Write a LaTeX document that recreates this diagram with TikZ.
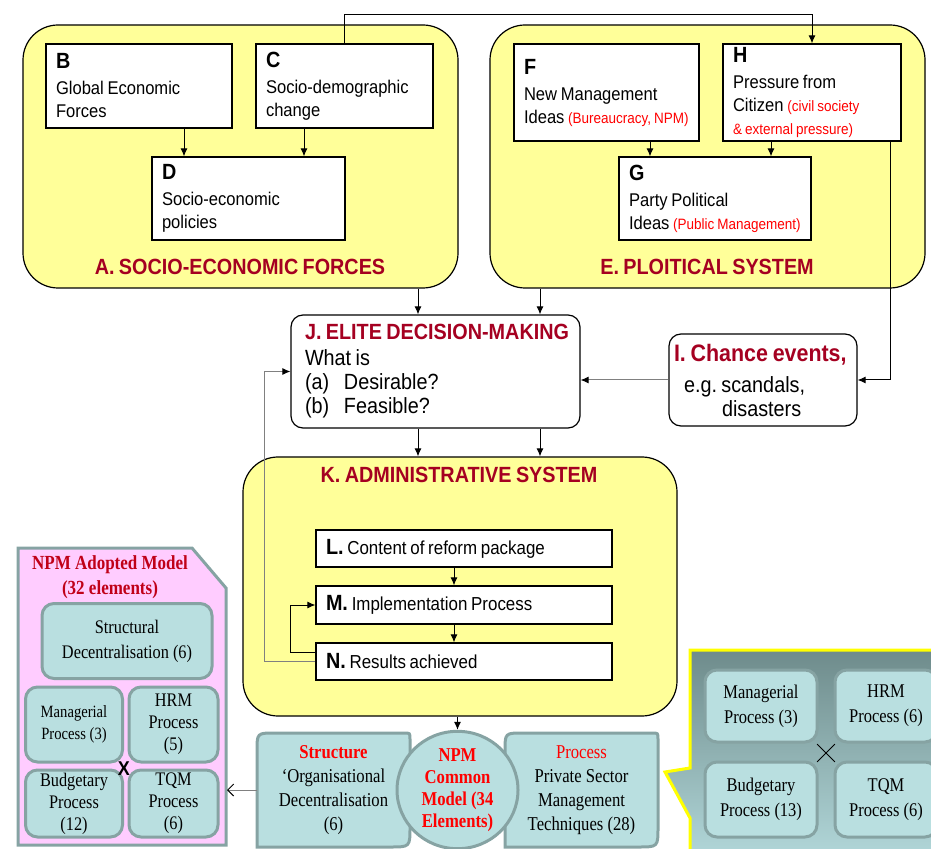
\documentclass[tikz,border=0pt]{standalone}
\usepackage{fontspec}
\setmainfont{Liberation Sans}[FakeStretch=0.9]
\newfontfamily\romanfont{Liberation Serif}[FakeStretch=0.85]
\usetikzlibrary{arrows.meta,shapes.geometric,shapes.misc}

\definecolor{paleyellow}{HTML}{FFFF99}
\definecolor{titlered}{HTML}{A50021}
\definecolor{notered}{HTML}{FF0000}
\definecolor{modelred}{HTML}{C00018}
\definecolor{tealfill}{HTML}{B9DFE0}
\definecolor{tealline}{HTML}{86A3A3}
\definecolor{pinkfill}{HTML}{FFCCFF}
\definecolor{calloutTop}{HTML}{6E8B8B}
\definecolor{calloutBot}{HTML}{B4DADC}
\definecolor{calloutEdge}{HTML}{FFFF00}
\definecolor{linegrey}{HTML}{808080}

\frenchspacing
\newcommand{\tightspace}{\spaceskip=0.2em plus 0.05em minus 0.02em\relax}
\newcommand{\boxletter}[1]{{\fontsize{11}{13}\selectfont\bfseries #1}}
\newcommand{\rednote}[1]{{\color{notered}\fontsize{7.5}{11.5}\selectfont\tightspace #1}}

\tikzset{
  panel/.style={draw, fill=paleyellow, rounded corners=17.5pt, line width=0.6pt},
  cell/.style={draw, fill=white, align=left, inner xsep=5pt, inner ysep=1.5pt,
    line width=0.6pt, font=\fontsize{9.2}{11.5}\selectfont, execute at begin node=\tightspace},
  heading/.style={text=titlered, font=\bfseries\fontsize{11}{13}\selectfont\tightspace},
  tealcell/.style={draw=tealline, fill=tealfill, line width=1.5pt, rounded corners=6pt,
    align=center, inner sep=0.5pt, font=\romanfont\fontsize{9.6}{11}\selectfont},
  link/.style={->, line width=0.5pt},
  greylink/.style={->, line width=0.5pt, draw=linegrey},
}

\begin{document}
\begin{tikzpicture}[x=0.5pt, y=-0.5pt, >={Latex[length=4pt,width=3.5pt,color=black]}]
\useasboundingbox (0,0) rectangle (931,849);
\clip (0,0) rectangle (931,849);

% side panels
\draw[draw=calloutEdge, line width=1.5pt, top color=calloutTop, bottom color=calloutBot]
  (690,650) -- (945,650) -- (945,865) -- (690,865) -- (690,818) -- (665,772) -- (690,768) -- cycle;
\draw[draw=tealline, line width=1.5pt, fill=pinkfill]
  (18,548) -- (192,548) -- (226,588) -- (226,845) -- (18,845) -- cycle;
\coordinate (adoptedE) at (227,790);

\node[panel, minimum width=217.5pt, minimum height=131.5pt] (A) at (240.5,156.5) {};
\node[panel, minimum width=217.5pt, minimum height=131.5pt] (E) at (707.5,156.5) {};
\node[panel, minimum width=217pt, minimum height=129.5pt] (K) at (460,586.5) {};
\node[heading] (Atitle) at (240,267) {A. SOCIO-ECONOMIC FORCES};
\node[heading] (Etitle) at (707,267) {E. PLOITICAL SYSTEM};
\node[heading] (Ktitle) at (459,475) {K. ADMINISTRATIVE SYSTEM};

\node[cell, text width=83pt, minimum height=42pt] (B) at (139,86)
  {\boxletter{B}\\[1.5pt] Global Economic\\ Forces};
\node[cell, text width=78.5pt, minimum height=42pt] (C) at (344.5,86)
  {\boxletter{C}\\[1.5pt] Socio-demographic\\ change};
\node[cell, text width=86.5pt, minimum height=41.5pt] (D) at (248.5,198.5)
  {\boxletter{D}\\[1.5pt] Socio-economic\\ policies};
\node[cell, text width=82.5pt, minimum height=48.5pt] (F) at (606.5,92.5)
  {\boxletter{F}\\[1.5pt] New Management\\ \mbox{Ideas \rednote{(Bureaucracy,\ NPM)}}};
\node[cell, text width=79pt, minimum height=48.5pt] (H) at (812,92.5)
  {\boxletter{H}\\[1.5pt] Pressure from\\ Citizen \rednote{(civil society}\\ \rednote{\& external pressure)}};
\node[cell, text width=86pt, minimum height=41.5pt] (G) at (715,198.5)
  {\boxletter{G}\\[1.5pt] Party Political\\ \mbox{Ideas \rednote{(Public Management)}}};

\node[cell, rounded corners=6pt, inner xsep=7pt, text width=130.5pt, minimum height=56.5pt,
  font=\fontsize{11}{12}\selectfont] (J) at (435.5,371.5)
  {\mbox{\textcolor{titlered}{\bfseries J. ELITE DECISION-MAKING}}\\[1pt] What is\\
   \makebox[19.5pt][l]{(a)}Desirable?\\ \makebox[19.5pt][l]{(b)}Feasible?};
\node[cell, rounded corners=6pt, inner xsep=2.5pt, text width=89pt, minimum height=46pt,
  font=\fontsize{11}{12}\selectfont] (I) at (763,380)
  {\mbox{\textcolor{titlered}{\bfseries\fontsize{11.9}{12}\selectfont\tightspace I. Chance events,}}\\[3.5pt]
   \hspace*{5pt}e.g. scandals,\\ \hspace*{24pt}disasters};

\node[cell, text width=138pt, minimum height=18.5pt, font=\fontsize{9.4}{11}\selectfont] (L) at (464,548.5)
  {\boxletter{L.} Content of reform package};
\node[cell, text width=138pt, minimum height=19pt, font=\fontsize{9.4}{11}\selectfont] (M) at (464,605)
  {\boxletter{M.} Implementation Process};
\node[cell, text width=138pt, minimum height=18.5pt, font=\fontsize{9.4}{11}\selectfont] (N) at (464,661.5)
  {\boxletter{N.} Results achieved};

% adopted model
\node[text=modelred, align=center, font=\romanfont\bfseries\fontsize{10}{12.5}\selectfont] (adoptedtitle)
  at (110,577) {NPM Adopted Model\\ (32 elements)};
\node[tealcell, minimum width=85pt, minimum height=37.5pt, font=\romanfont\fontsize{9.6}{12.5}\selectfont] (SD)
  at (127,641) {Structural\\ Decentralisation (6)};
\node[tealcell, minimum width=48.5pt, minimum height=37.5pt, font=\romanfont\fontsize{8.6}{11}\selectfont] (MP)
  at (74,724.5) {Managerial\\ Process (3)};
\node[tealcell, minimum width=44.5pt, minimum height=37.5pt] (HRM) at (173.5,724.5) {HRM\\ Process\\ (5)};
\node[tealcell, minimum width=48.5pt, minimum height=33.5pt] (BP) at (74,803.5) {Budgetary\\ Process\\ (12)};
\node[tealcell, minimum width=44.5pt, minimum height=33.5pt] (TQM) at (173.5,803.5) {TQM\\ Process\\ (6)};
\node[font=\bfseries\fontsize{10}{10}\selectfont, inner sep=0pt] (xmark) at (124,769) {X};

% common model
\draw[draw=tealline, line width=1.5pt, fill=tealfill]
  (257,847) -- (257,751) .. controls (257,733) .. (275,733) -- (404,733) .. controls (410,733) .. (410,739)
  -- (410,827) .. controls (410,847) .. (390,847) -- cycle;
\draw[draw=tealline, line width=1.5pt, fill=tealfill]
  (505,847) -- (505,751) .. controls (505,733) .. (523,733) -- (652,733) .. controls (658,733) .. (658,739)
  -- (658,827) .. controls (658,847) .. (638,847) -- cycle;
\node[align=center, minimum width=76.5pt, minimum height=57pt, font=\romanfont\fontsize{9.8}{12}\selectfont]
  (strct) at (333.5,790) {\textcolor{notered}{\bfseries Structure}\\ ‘Organisational\\ Decentralisation\\ (6)};
\node[align=center, minimum width=76.5pt, minimum height=57pt, font=\romanfont\fontsize{9.8}{12}\selectfont]
  (proc) at (581.5,790) {\textcolor{notered}{Process}\\ Private Sector\\ Management\\ Techniques (28)};
\node[ellipse, draw=tealline, fill=tealfill, line width=1.5pt, minimum width=60.5pt, minimum height=58pt,
  inner sep=0pt, align=center, text=notered, font=\romanfont\bfseries\fontsize{9.8}{11}\selectfont]
  (npm) at (457.5,790) {NPM\\ Common\\ Model (34\\ Elements)};

% process callout
\node[tealcell, minimum width=56pt, minimum height=36pt, font=\romanfont\fontsize{9.7}{12.5}\selectfont]
  (MP2) at (761,706) {Managerial\\ Process (3)};
\node[tealcell, minimum width=51pt, minimum height=36pt, font=\romanfont\fontsize{9.7}{12.5}\selectfont]
  (HRM2) at (886,706) {HRM\\ Process (6)};
\node[tealcell, minimum width=56pt, minimum height=37.5pt, font=\romanfont\fontsize{9.7}{12.5}\selectfont]
  (BP2) at (761,799.5) {Budgetary\\ Process (13)};
\node[tealcell, minimum width=51pt, minimum height=37.5pt, font=\romanfont\fontsize{9.7}{12.5}\selectfont]
  (TQM2) at (886,799.5) {TQM\\ Process (6)};
\node[cross out, draw, line width=0.4pt, minimum size=8.5pt, inner sep=0pt] (xcross) at (826,753) {};

% connectors
\coordinate (ch) at (C.north |- 0,15);
\coordinate (bd) at ([xshift=22.5pt]B.south);
\coordinate (cd) at ([xshift=-20.25pt]C.south);
\coordinate (fg) at ([xshift=21.75pt]F.south);
\coordinate (hg) at ([xshift=-20.5pt]H.south);
\coordinate (hi) at ([xshift=39pt]H.south);
\coordinate (ja) at ([xshift=-8.75pt]J.north);
\coordinate (je) at ([xshift=52.25pt]J.north);
\draw[link] (C.north) -- (ch) -| (H.north);
\path[link] (bd) edge (bd |- D.north)
            (cd) edge (cd |- D.north)
            (fg) edge (fg |- G.north)
            (hg) edge (hg |- G.north)
            (ja |- A.south) edge (ja)
            (je |- E.south) edge (je)
            (ja |- J.south) edge (ja |- K.north)
            (je |- J.south) edge (je |- K.north)
            ([xshift=-5pt]L.south) edge ([xshift=-5pt]M.north)
            ([xshift=-5pt]M.south) edge ([xshift=-5pt]N.north)
            (K.south -| npm.north) edge (npm.north);
\draw[link] (hi) |- (I.east);
\draw[greylink] (I.west) -- (I.west -| J.east);
\draw[link] ([yshift=4.75pt]N.west) -- ++(-12.5pt,0) |- (M.west);
\draw[greylink] (N.west) -- ++(-25.5pt,0) |- (J.west);
\draw[draw=linegrey, line width=0.5pt, -{Straight Barb[length=3pt,width=6pt,color=black]}] (strct.west) -- (adoptedE);
\end{tikzpicture}
\end{document}
